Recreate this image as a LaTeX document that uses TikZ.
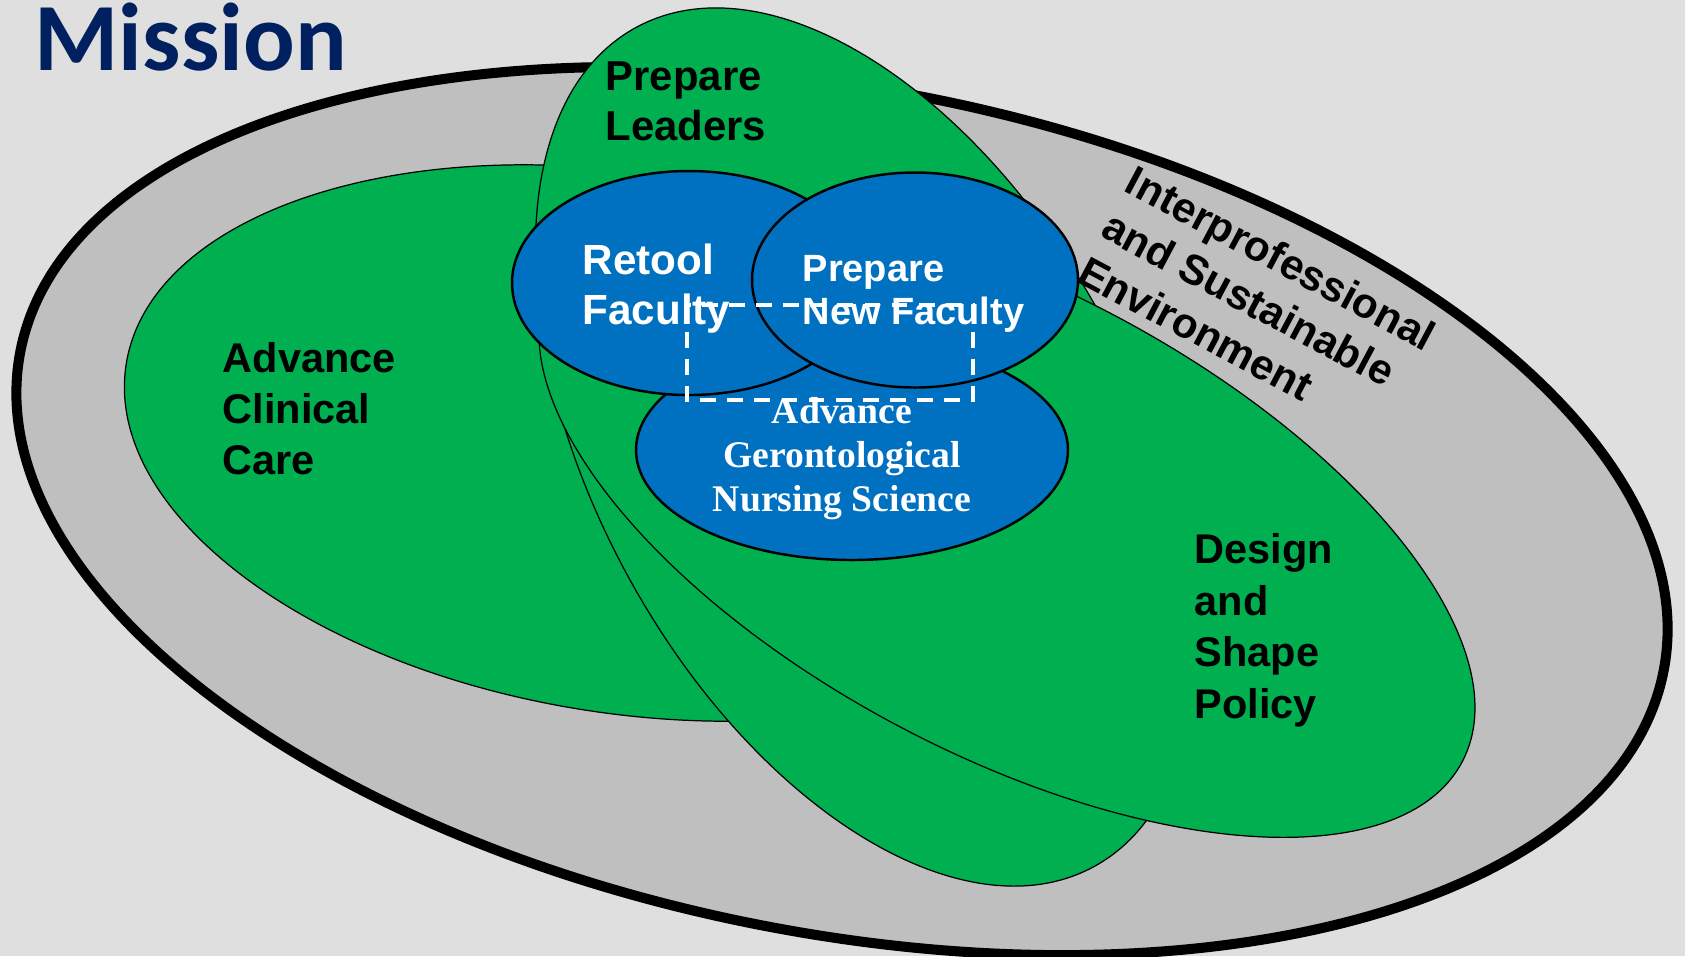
\documentclass[tikz,border=0pt]{standalone}
\usepackage{fontspec}
\setmainfont{Liberation Sans}
\newfontfamily\titlefont{Carlito}
\newfontfamily\timesfont{Liberation Serif}
\definecolor{missionbg}{HTML}{DFDFDF}
\definecolor{missionring}{HTML}{BFBFBF}
\definecolor{missiongreen}{HTML}{00B050}
\definecolor{missionblue}{HTML}{0070C0}
\definecolor{missionnavy}{HTML}{002060}

\begin{document}
\begin{tikzpicture}[x=0.01cm,y=0.01cm,
  ring/.style={draw=black,fill=missionring,line width=2.85pt},
  goal/.style={draw=black,fill=missiongreen,line width=0.35pt},
  core/.style={draw=black,fill=missionblue,line width=0.7pt},
  overlap/.style={draw=white,line width=1pt,dash pattern=on 4.5pt off 3.2pt},
  lab/.style={align=left,anchor=north west,inner sep=0pt},
  corelab/.style={lab,text=white}
]
\fill[missionbg] (0,0) rectangle (1685,-956);
\useasboundingbox (0,0) rectangle (1685,-956);

\coordinate (outerc) at (842,-511);
\coordinate (clinc) at (625,-443);
\coordinate (leadc) at (865,-447);
\coordinate (polc) at (1007,-521);
\coordinate (scic) at (852,-450);
\coordinate (retc) at (689,-283);
\coordinate (newc) at (915,-280);

\draw[ring,rotate around={-11:(outerc)}] (outerc) ellipse [x radius=837,y radius=422];
\draw[goal,rotate around={-9:(clinc)}] (clinc) ellipse [x radius=505,y radius=270];
\draw[goal,rotate around={-61.35:(leadc)}] (leadc) ellipse [x radius=478,y radius=270];
\draw[goal,rotate around={-27.9:(polc)}] (polc) ellipse [x radius=515,y radius=232];

\draw[core] (scic) ellipse [x radius=216,y radius=110];
\draw[core] (retc) ellipse [x radius=177,y radius=112];
\draw[core] (newc) ellipse [x radius=163,y radius=107.5];
\draw[overlap] (687,-305) rectangle (973,-400);

\node[anchor=base west,inner sep=0pt,text=missionnavy,font=\titlefont\bfseries\fontsize{27.4}{30}\selectfont] (title) at (34,-70) {Mission};
\node[lab,font=\bfseries\fontsize{11.9}{14.2}\selectfont] (leaders) at (605,-61) {Prepare\\Leaders};
\node[lab,font=\bfseries\fontsize{11.8}{14.5}\selectfont] (clinical) at (222,-342) {Advance\\Clinical\\Care};
\node[lab,font=\bfseries\fontsize{11.8}{14.65}\selectfont] (policy) at (1194,-533) {Design\\and\\Shape\\Policy};
\node[lab,rotate=-28,font=\bfseries\fontsize{12}{14.5}\selectfont] (environ) at (1137,-163) {Interprofessional\\and Sustainable\\Environment};
\node[corelab,font=\bfseries\fontsize{12}{14.2}\selectfont] (retool) at (582,-243) {Retool\\Faculty};
\node[corelab,font=\bfseries\fontsize{10.8}{12.2}\selectfont] (newfac) at (802,-255) {Prepare\\New Faculty};
\node[corelab,align=center,anchor=north,font=\timesfont\bfseries\fontsize{10.7}{12.5}\selectfont] (science) at (842,-397) {Advance\\Gerontological\\Nursing Science};
\end{tikzpicture}
\end{document}
